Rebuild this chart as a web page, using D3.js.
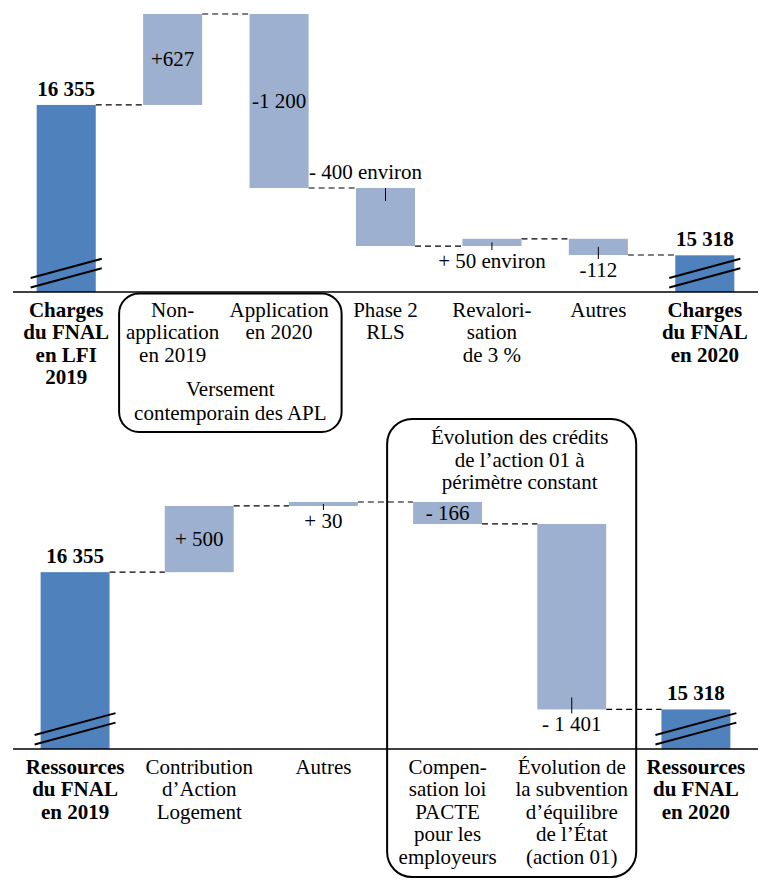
<!DOCTYPE html>
<html><head><meta charset="utf-8">
<script src="https://cdn.jsdelivr.net/npm/d3@7"></script>
<style>
body{margin:0;background:#fff}
svg{display:block}
</style>
</head><body><svg id="chart" width="772" height="880" font-family="Liberation Serif" font-size="21"></svg>
<script>
// ---------- Top chart: Charges du FNAL ----------
const topCategories = [
  ["Charges","du FNAL","en LFI","2019"],
  ["Non-","application","en 2019"],
  ["Application","en 2020"],
  ["Phase 2","RLS"],
  ["Revalori-","sation","de 3 %"],
  ["Autres"],
  ["Charges","du FNAL","en 2020"]
];
const topValues = [16355, 627, -1200, -400, 50, -112, 15318];
const topKinds = ["total","delta","delta","delta","delta","delta","total"];
const topValueLabels = ["16 355","+627","-1 200","- 400 environ","+ 50 environ","-112","15 318"];
const topLabelPlacement = ["above","inside","inside","aboveLeft","below","below","above"];
const topGroupTitle = ["Versement","contemporain des APL"];

// ---------- Bottom chart: Ressources du FNAL ----------
const bottomCategories = [
  ["Ressources","du FNAL","en 2019"],
  ["Contribution","d’Action","Logement"],
  ["Autres"],
  ["Compen-","sation loi","PACTE","pour les","employeurs"],
  ["Évolution de","la subvention","d’équilibre","de l’État","(action 01)"],
  ["Ressources","du FNAL","en 2020"]
];
const bottomValues = [16355, 500, 30, -166, -1401, 15318];
const bottomKinds = ["total","delta","delta","delta","delta","total"];
const bottomValueLabels = ["16 355","+ 500","+ 30","- 166","- 1 401","15 318"];
const bottomLabelPlacement = ["above","inside","below","inside","below","above"];
const bottomGroupTitle = ["Évolution des crédits","de l’action 01 à","périmètre constant"];

const colorTotal = "#4F81BD";
const colorDelta = "#9DB0CF";
const svg = d3.select("#chart");

function waterfall(cfg){
  const g = svg.append("g");
  const n = cfg.values.length;
  const x = d3.scaleBand().domain(d3.range(n)).range([13, 758]).paddingInner(0.445).paddingOuter(0.2225);
  const y = d3.scaleLinear().domain(cfg.domain).range(cfg.range);
  const bw = x.bandwidth();
  const base = cfg.range[0];
  let cum = 0;
  const bars = cfg.values.map((v,i)=>{
    let s,e;
    if(cfg.kinds[i]==="total"){ s = cfg.domain[0]; e = v; cum = v; }
    else { s = cum; e = cum + v; cum = e; }
    return {i, s, e, kind: cfg.kinds[i], end: cum};
  });
  // connectors
  for(let i=0;i<n-1;i++){
    const yy = y(bars[i].end);
    g.append("line").attr("x1", x(i)+bw).attr("x2", x(i+1)).attr("y1", yy).attr("y2", yy)
      .attr("stroke","#000").attr("stroke-width",1.2).attr("stroke-dasharray","6,4");
  }
  // bars
  g.selectAll("rect.bar").data(bars).enter().append("rect")
    .attr("x", d=>x(d.i)).attr("width", bw)
    .attr("y", d=> d.kind==="total" ? y(d.e) : y(Math.max(d.s,d.e)))
    .attr("height", d=> d.kind==="total" ? base - y(d.e) : Math.abs(y(d.s)-y(d.e)))
    .attr("fill", d=> d.kind==="total" ? colorTotal : colorDelta);
  // axis line
  g.append("line").attr("x1",13).attr("x2",758).attr("y1",base).attr("y2",base)
    .attr("stroke","#000").attr("stroke-width",1.5);
  // break marks on totals
  bars.filter(d=>d.kind==="total").forEach(d=>{
    const x1 = x(d.i)-6, x2 = x(d.i)+bw+6, dy = (x2-x1)*0.27;
    [14, 4.5].forEach(off=>{
      g.append("line").attr("x1",x1).attr("x2",x2).attr("y1",base-off).attr("y2",base-off-dy)
        .attr("stroke","#000").attr("stroke-width",2);
    });
  });
  // value labels
  bars.forEach(d=>{
    const cx = x(d.i)+bw/2;
    const top = y(Math.max(d.s,d.e)), bot = d.kind==="total" ? base : y(Math.min(d.s,d.e));
    const pl = cfg.placement[d.i], txt = cfg.labels[d.i];
    const t = g.append("text").attr("text-anchor","middle").attr("dominant-baseline","central").text(txt);
    if(pl==="above"){ t.attr("x",cx).attr("y",top-16).attr("font-weight","bold"); }
    else if(pl==="inside"){ t.attr("x",cx).attr("y",(top+bot)/2); }
    else if(pl==="aboveLeft"){
      t.attr("x",cx-20).attr("y",top-16);
      g.append("line").attr("x1",cx).attr("x2",cx).attr("y1",top).attr("y2",top+13).attr("stroke","#000").attr("stroke-width",1);
    } else if(pl==="below"){
      t.attr("x",cx).attr("y",bot+15);
      g.append("line").attr("x1",cx).attr("x2",cx).attr("y1",Math.max((top+bot)/2, bot-12)).attr("y2",bot+4).attr("stroke","#000").attr("stroke-width",1);
    }
  });
  // category labels
  cfg.categories.forEach((lines,i)=>{
    const t = g.append("text").attr("text-anchor","middle").attr("dominant-baseline","central")
      .attr("font-weight", cfg.kinds[i]==="total" ? "bold" : "normal");
    lines.forEach((ln,k)=>{
      t.append("tspan").attr("x", x(i)+bw/2).attr("y", base+17.5+k*22.5).text(ln);
    });
  });
  return {x, y, bw, base, g};
}

// top
const T = waterfall({values: topValues, kinds: topKinds, labels: topValueLabels, placement: topLabelPlacement,
  categories: topCategories, domain:[15065, 16982], range:[292, 14]});
{
  const bx1 = T.x(1)-24, bx2 = T.x(2)+T.bw+33;
  T.g.append("rect").attr("x",bx1).attr("y",T.base+1.5).attr("width",bx2-bx1).attr("height",432-T.base-1.5)
    .attr("rx",20).attr("fill","none").attr("stroke","#000").attr("stroke-width",2);
  const t = T.g.append("text").attr("text-anchor","middle").attr("dominant-baseline","central");
  topGroupTitle.forEach((ln,k)=> t.append("tspan").attr("x",(bx1+bx2)/2).attr("y",389+k*23.5).text(ln));
}
// bottom
const B = waterfall({values: bottomValues, kinds: bottomKinds, labels: bottomValueLabels, placement: bottomLabelPlacement,
  categories: bottomCategories, domain:[15019, 16885], range:[749, 502]});
{
  const bx1 = B.x(3)-26, bx2 = B.x(4)+B.bw+30;
  B.g.append("rect").attr("x",bx1).attr("y",419).attr("width",bx2-bx1).attr("height",877-419)
    .attr("rx",25).attr("fill","none").attr("stroke","#000").attr("stroke-width",2);
  const t = B.g.append("text").attr("text-anchor","middle").attr("dominant-baseline","central");
  bottomGroupTitle.forEach((ln,k)=> t.append("tspan").attr("x",(bx1+bx2)/2+8).attr("y",437+k*22.5).text(ln));
}
</script>
</body></html>
